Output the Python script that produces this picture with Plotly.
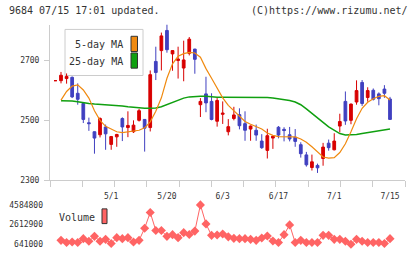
import numpy as np
import plotly.graph_objects as go

# ---------------- data ----------------
# previous-day doji shown at the far left
prev_x = [-1]
prev_ohlc = [2632]

opens = [2632, 2639, 2643, 2590, 2556, 2492, 2462, 2452, 2478, 2420,
         2445, 2506, 2476, 2462, 2500, 2503, 2476, 2696, 2732, 2799,
         2721, 2699, 2674, 2723, 2737, 2552, 2588, 2563, 2497, 2520,
         2462, 2506, 2519, 2489, 2471, 2467, 2431, 2400, 2441, 2477,
         2470, 2452, 2444, 2419, 2385, 2343, 2350, 2373, 2424, 2402,
         2481, 2563, 2500, 2561, 2626, 2576, 2600, 2588, 2604, 2571]
highs = [2661, 2656, 2646, 2623, 2558, 2509, 2463, 2510, 2486, 2448,
         2455, 2510, 2530, 2500, 2538, 2504, 2666, 2745, 2792, 2819,
         2733, 2745, 2765, 2777, 2738, 2574, 2645, 2590, 2574, 2563,
         2504, 2545, 2540, 2530, 2483, 2486, 2454, 2472, 2449, 2481,
         2477, 2478, 2471, 2427, 2395, 2386, 2356, 2425, 2436, 2457,
         2522, 2596, 2556, 2633, 2634, 2610, 2606, 2593, 2617, 2578]
lows = [2623, 2622, 2574, 2552, 2491, 2465, 2389, 2443, 2402, 2402,
        2412, 2431, 2444, 2458, 2496, 2396, 2463, 2634, 2666, 2725,
        2665, 2639, 2630, 2716, 2655, 2511, 2527, 2500, 2479, 2488,
        2450, 2500, 2470, 2432, 2432, 2432, 2405, 2373, 2405, 2440,
        2430, 2430, 2412, 2376, 2346, 2333, 2325, 2349, 2399, 2400,
        2460, 2485, 2487, 2552, 2548, 2562, 2566, 2550, 2575, 2503]
closes = [2650, 2646, 2578, 2570, 2503, 2489, 2441, 2506, 2455, 2446,
          2453, 2478, 2483, 2484, 2532, 2474, 2652, 2659, 2781, 2735,
          2732, 2704, 2701, 2770, 2703, 2563, 2558, 2503, 2566, 2524,
          2479, 2518, 2482, 2467, 2481, 2451, 2409, 2449, 2447, 2451,
          2466, 2438, 2430, 2389, 2352, 2362, 2342, 2411, 2409, 2431,
          2496, 2498, 2554, 2599, 2556, 2599, 2570, 2572, 2590, 2503]

ma5 = [2567, 2596, 2614, 2618, 2601, 2574, 2532, 2500, 2480, 2470,
       2462, 2459, 2462, 2464, 2467, 2475, 2495, 2530, 2575, 2640,
       2688, 2713, 2722, 2726, 2724, 2710, 2672, 2640, 2605, 2575,
       2550, 2531, 2514, 2496, 2487, 2480, 2471, 2458, 2450, 2446,
       2446, 2446, 2445, 2438, 2427, 2412, 2395, 2378, 2374, 2376,
       2393, 2422, 2462, 2505, 2540, 2560, 2572, 2580, 2582, 2568]
ma25 = [2565, 2565, 2564, 2562, 2558, 2556, 2554, 2553, 2552, 2550,
        2550, 2548, 2545, 2543, 2541, 2540, 2540, 2541, 2545, 2552,
        2560, 2568, 2574, 2578, 2580, 2580, 2580, 2578, 2577, 2577,
        2577, 2577, 2577, 2577, 2577, 2577, 2577, 2576, 2574, 2572,
        2569, 2566, 2561, 2552, 2538, 2522, 2506, 2493, 2478, 2466,
        2456, 2451, 2451, 2453, 2456, 2459, 2462, 2465, 2468, 2471]

volume = [1030000, 810000, 870000, 810000, 1200000, 940000, 1430000, 940000, 1130000, 710000,
          1300000, 1200000, 1300000, 870000, 1030000, 2250000, 3830000, 2020000, 2020000, 1430000,
          1600000, 1300000, 1800000, 1620000, 1960000, 4584800, 2680000, 1530000, 1560000, 1660000,
          1380000, 1230000, 1200000, 1200000, 1130000, 1030000, 1260000, 1460000, 970000, 810000,
          1600000, 2580000, 810000, 1030000, 810000, 810000, 810000, 1530000, 1530000, 1130000,
          1130000, 940000, 641000, 1130000, 940000, 810000, 810000, 810000, 710000, 1200000]

date_tick_idx = [9, 19, 29, 39, 49, 59]
date_tick_text = ["5/1", "5/20", "6/3", "6/17", "7/1", "7/15"]
price_ticks = [2300, 2500, 2700]
vol_ticks = [641000, 2612900, 4584800]
vol_tick_text = ["641000", "2612900", "4584800"]

# ---------------- style ----------------
W, H = 420, 259
RED = "#d80000"
BLUE = "#4040c0"
ORANGE = "#f08a10"
GREEN = "#10a010"
VOLC = "#ff6464"
AX = "#cccccc"
TXT = "#333333"
FONT = "DejaVu Sans Mono"

x = list(range(len(closes)))


def px(v):
    return v / W


def py(v):
    return 1 - v / H


X_LO, X_HI = -1.973, 61.69
XDOM = [px(50), px(405)]
PR_LO, PR_HI = 2300, 2818.8
VPP = 3943800 / 40.3  # volume units per pixel
V_LO = 641000 - 6 * VPP
V_HI = 641000 + 49.3 * VPP

fig = go.Figure()

fig.add_trace(go.Candlestick(
    x=prev_x + x,
    open=prev_ohlc + opens, high=prev_ohlc + highs,
    low=prev_ohlc + lows, close=prev_ohlc + closes,
    increasing=dict(line=dict(color=RED, width=1), fillcolor=RED),
    decreasing=dict(line=dict(color=BLUE, width=1), fillcolor=BLUE),
    whiskerwidth=0, showlegend=False, hoverinfo="skip",
    xaxis="x", yaxis="y"))

fig.add_trace(go.Scatter(x=x, y=ma25, mode="lines",
                         line=dict(color=GREEN, width=1.5),
                         showlegend=False, hoverinfo="skip",
                         xaxis="x", yaxis="y"))
fig.add_trace(go.Scatter(x=x, y=ma5, mode="lines",
                         line=dict(color=ORANGE, width=1.2),
                         showlegend=False, hoverinfo="skip",
                         xaxis="x3", yaxis="y"))

fig.add_trace(go.Scatter(x=x, y=volume, mode="lines+markers",
                         line=dict(color=VOLC, width=1),
                         marker=dict(symbol="diamond", size=7, color=VOLC),
                         showlegend=False, hoverinfo="skip",
                         xaxis="x2", yaxis="y2"))

fig.update_layout(
    width=W, height=H,
    margin=dict(l=0, r=0, t=0, b=0),
    paper_bgcolor="white", plot_bgcolor="white",
    font=dict(family=FONT, size=8, color=TXT),
    xaxis=dict(domain=XDOM, range=[X_LO, X_HI], anchor="y",
               tickvals=list(np.linspace(X_LO, X_HI, 12)),
               ticks="outside", ticklen=6, tickcolor=AX, tickwidth=1,
               showticklabels=False, showgrid=False, zeroline=False,
               showline=True, linecolor=AX, linewidth=1,
               rangeslider=dict(visible=False), fixedrange=True),
    xaxis3=dict(domain=XDOM, range=[X_LO, X_HI], anchor="y", overlaying="x",
                side="bottom",
                tickvals=date_tick_idx, ticktext=date_tick_text,
                ticks="outside", ticklen=8, tickcolor="rgba(0,0,0,0)",
                tickfont=dict(family=FONT, size=8, color=TXT),
                showgrid=False, zeroline=False, showline=False, fixedrange=True),
    yaxis=dict(domain=[py(184), py(25)], range=[PR_LO, PR_HI], anchor="x",
               tickvals=price_ticks, ticks="outside", ticklen=5,
               tickcolor=AX, tickwidth=1, ticklabelstandoff=3,
               tickfont=dict(family=FONT, size=8, color=TXT),
               showgrid=False, zeroline=False,
               showline=True, linecolor=AX, linewidth=1, fixedrange=True),
    xaxis2=dict(domain=XDOM, range=[X_LO, X_HI], anchor="y2", visible=False,
                fixedrange=True),
    yaxis2=dict(domain=[py(255), py(200)], range=[V_LO, V_HI], anchor="x2",
                tickvals=vol_ticks, ticktext=vol_tick_text,
                ticks="", ticklabelstandoff=6,
                tickfont=dict(family=FONT, size=8, color=TXT),
                showgrid=False, zeroline=False, showline=False, fixedrange=True),
)

shapes = [
    # price legend box
    dict(type="rect", xref="paper", yref="paper",
         x0=px(65), x1=px(143), y0=py(77), y1=py(30),
         line=dict(color=AX, width=1), fillcolor="white", layer="below"),
    dict(type="rect", xref="paper", yref="paper",
         x0=px(131), x1=px(137.5), y0=py(52.5), y1=py(37),
         line=dict(color="#333333", width=1), fillcolor=ORANGE),
    dict(type="rect", xref="paper", yref="paper",
         x0=px(131), x1=px(137.5), y0=py(69.5), y1=py(54),
         line=dict(color="#333333", width=1), fillcolor=GREEN),
    # volume legend swatch
    dict(type="rect", xref="paper", yref="paper",
         x0=px(102), x1=px(107), y0=py(228), y1=py(213),
         line=dict(color="#333333", width=1), fillcolor=VOLC),
]

annotations = [
    dict(text="9684 07/15 17:01 updated.", x=px(7), y=py(11),
         xanchor="left", yanchor="middle"),
    dict(text="(C)https://www.rizumu.net/", x=px(410), y=py(11),
         xanchor="right", yanchor="middle"),
    dict(text="5-day MA", x=px(125), y=py(45.5),
         xanchor="right", yanchor="middle"),
    dict(text="25-day MA", x=px(125), y=py(62.5),
         xanchor="right", yanchor="middle"),
    dict(text="Volume", x=px(57), y=py(222),
         xanchor="left", yanchor="middle"),
]
for a in annotations:
    a.update(xref="paper", yref="paper", showarrow=False,
             font=dict(family=FONT, size=10, color=TXT))

fig.update_layout(shapes=shapes, annotations=annotations)

fig.write_html("out.html")
